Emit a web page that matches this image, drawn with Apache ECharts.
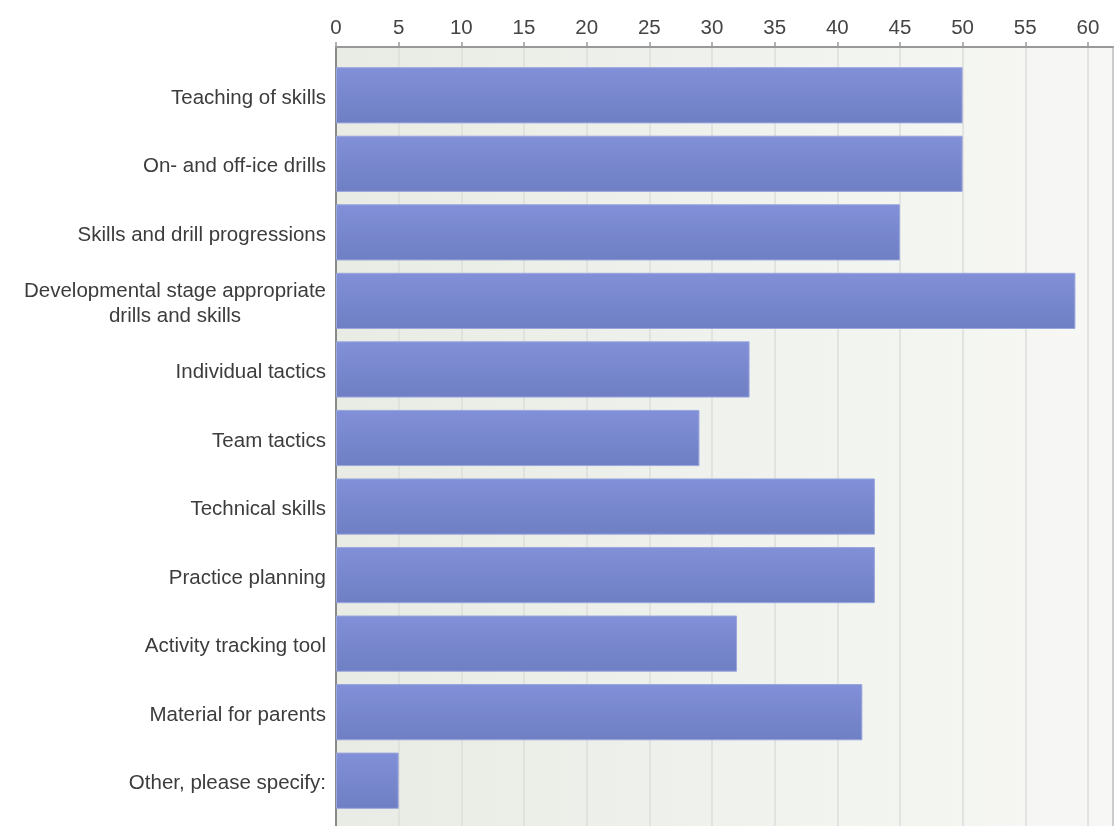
<!DOCTYPE html>
<html>
<head>
<meta charset="utf-8">
<script src="https://cdn.jsdelivr.net/npm/echarts@6/dist/echarts.min.js"></script>
<style>html,body{margin:0;padding:0;background:#fff;}#c{width:1114px;height:826px;}</style>
</head>
<body>
<div id="c"></div>
<script>
const categories = [
  "Teaching of skills",
  "On- and off-ice drills",
  "Skills and drill progressions",
  "Developmental stage appropriate\ndrills and skills",
  "Individual tactics",
  "Team tactics",
  "Technical skills",
  "Practice planning",
  "Activity tracking tool",
  "Material for parents",
  "Other, please specify:"
];
const values = [50, 50, 45, 59, 33, 29, 43, 43, 32, 42, 5];
const axisMin = 0, axisMax = 62, axisStep = 5;

const chart = echarts.init(document.getElementById('c'), null, {renderer: 'canvas'});
const font = 'Liberation Sans, Arial, sans-serif';
chart.setOption({
  animation: false,
  grid: [
    {left: 336, right: 1, top: 47, bottom: -30, show: true,
     backgroundColor: new echarts.graphic.LinearGradient(0, 0, 1, 0, [
       {offset: 0, color: '#e8ece4'}, {offset: 1, color: '#f7f8f5'}]),
     borderWidth: 0},
    {left: 336, right: 1, top: 61, bottom: 11}
  ],
  xAxis: [
    {gridIndex: 0, type: 'value', position: 'top', min: axisMin, max: axisMax, interval: axisStep,
     axisLine: {show: true, onZero: false, lineStyle: {color: '#999', width: 2}},
     axisTick: {show: true, length: 5, lineStyle: {color: '#999', width: 1.5}},
     axisLabel: {color: '#444', fontFamily: font, fontSize: 20.5, margin: 8, showMaxLabel: false,
       formatter: v => (v % axisStep === 0 ? String(v) : '')},
     splitLine: {show: true, lineStyle: {color: '#dcdedb', width: 1.5}}},
    {gridIndex: 1, type: 'value', min: axisMin, max: axisMax, show: false}
  ],
  yAxis: [
    {gridIndex: 0, type: 'value', position: 'left', min: 0, max: 1,
     axisLine: {show: true, onZero: false, lineStyle: {color: '#8a8a8a', width: 2}},
     axisTick: {show: false}, axisLabel: {show: false}, splitLine: {show: false}},
    {gridIndex: 0, type: 'value', position: 'right', min: 0, max: 1,
     axisLine: {show: true, onZero: false, lineStyle: {color: '#c4c4c4', width: 1.5}},
     axisTick: {show: false}, axisLabel: {show: false}, splitLine: {show: false}},
    {gridIndex: 1, type: 'category', inverse: true, data: categories,
     axisLine: {show: false}, axisTick: {show: false},
     axisLabel: {color: '#3c3c3c', fontFamily: font, fontSize: 20.5, margin: 10, lineHeight: 25,
       padding: [6, 0, 0, 0],
       formatter: v => v.indexOf('\n') >= 0 ? v.split('\n').map(s => '{c|' + s + '}').join('\n') : v,
       rich: {c: {align: 'center', color: '#3c3c3c', fontFamily: font, fontSize: 20.5, lineHeight: 25}}}}
  ],
  series: [{
    type: 'bar', xAxisIndex: 1, yAxisIndex: 2, data: values, barCategoryGap: '18%',
    itemStyle: {
      color: new echarts.graphic.LinearGradient(0, 0, 0, 1, [
        {offset: 0, color: '#8190d8'}, {offset: 1, color: '#6f7fc3'}]),
      borderColor: '#9aa6dc', borderWidth: 1
    }
  }]
});
</script>
</body>
</html>
